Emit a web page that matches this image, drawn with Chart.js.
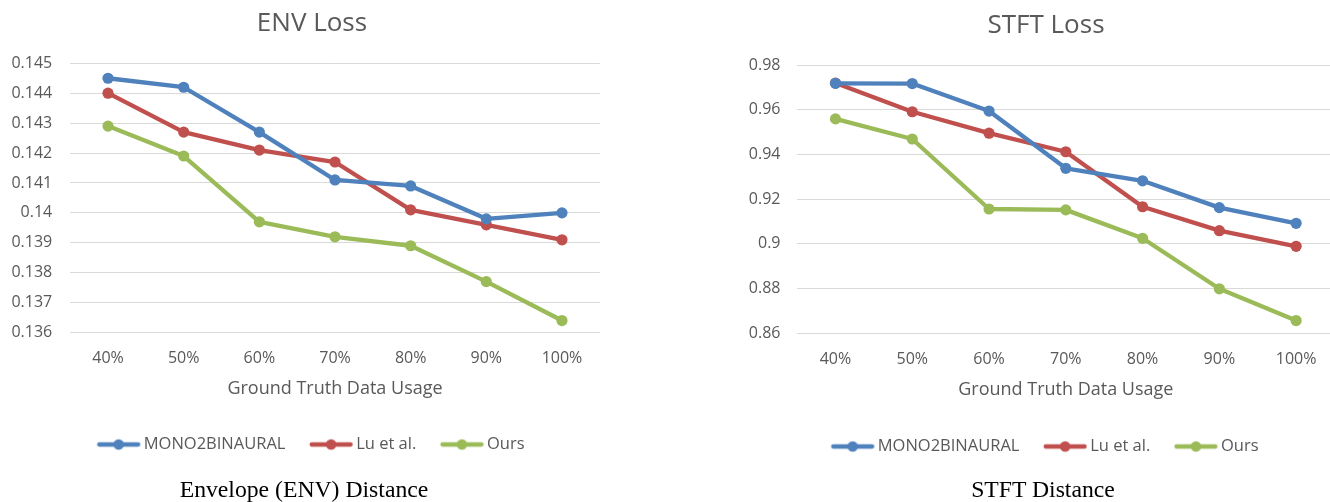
<!DOCTYPE html>
<html><head><meta charset="utf-8">
<script src="https://cdn.jsdelivr.net/npm/chart.js@4.4.1/dist/chart.umd.min.js"></script>
<style>
html,body{margin:0;padding:0;background:#fff;}
body{width:1330px;height:502px;overflow:hidden;position:relative;}
.box{position:absolute;top:0;}
.cap{position:absolute;font-family:"Liberation Serif","Times New Roman",serif;font-size:23.7px;color:#000;white-space:nowrap;transform:translateX(-50%);line-height:24px;}
</style></head><body>
<div class="box" style="left:0;width:624px;height:480px"><canvas id="env" width="624" height="480"></canvas></div>
<div class="box" style="left:738.5px;width:614px;height:480px"><canvas id="stft" width="614" height="480"></canvas></div>
<div class="cap" style="left:304px;top:477px">Envelope (ENV) Distance</div>
<div class="cap" style="left:1043px;top:477px">STFT Distance</div>
<script>
// ---- data ----
const categories = ['40%', '50%', '60%', '70%', '80%', '90%', '100%'];
const seriesNames = ['MONO2BINAURAL', 'Lu et al.', 'Ours'];
const envMono = [0.1445, 0.1442, 0.1427, 0.1411, 0.1409, 0.1398, 0.1400];
const envLu   = [0.1440, 0.1427, 0.1421, 0.1417, 0.1401, 0.1396, 0.1391];
const envOurs = [0.1429, 0.1419, 0.1397, 0.1392, 0.1389, 0.1377, 0.1364];
const stftMono = [0.9718, 0.9717, 0.9594, 0.9338, 0.9282, 0.9162, 0.9092];
const stftLu   = [0.9719, 0.9591, 0.9495, 0.9412, 0.9166, 0.9059, 0.8989];
const stftOurs = [0.9559, 0.9469, 0.9156, 0.9152, 0.9025, 0.8799, 0.8657];
const envYRange = [0.136, 0.145, 0.001];
const stftYRange = [0.86, 0.98, 0.02];
const chartTitles = ['ENV Loss', 'STFT Loss'];
const xAxisTitle = 'Ground Truth Data Usage';

// ---- style ----
const FONT = '"Open Sans", "Noto Sans", sans-serif';
const TXT = '#595959';
const COLORS = ['#4F81BD', '#C0504D', '#9BBB59'];

function marker(color) {
  const c = document.createElement('canvas');
  c.width = 52; c.height = 14;
  const g = c.getContext('2d');
  g.strokeStyle = color; g.lineWidth = 4.3; g.lineCap = 'round';
  g.beginPath(); g.moveTo(7.7, 7); g.lineTo(46.7, 7); g.stroke();
  g.fillStyle = color;
  g.beginPath(); g.arc(27.2, 7, 5.3, 0, Math.PI * 2); g.fill();
  return c;
}
const markers = COLORS.map(marker);

function lossChart(id, title, series, range, L) {
  return new Chart(document.getElementById(id), {
    type: 'line',
    data: {
      labels: categories,
      datasets: series.map((vals, i) => ({
        label: seriesNames[i], data: vals,
        borderColor: COLORS[i], backgroundColor: COLORS[i],
        pointBackgroundColor: COLORS[i], pointBorderColor: COLORS[i],
        borderWidth: 4.3, pointRadius: 5.6, pointBorderWidth: 0,
        borderJoinStyle: 'round', borderCapStyle: 'round', tension: 0,
        yAxisID: 'y'
      }))
    },
    options: {
      responsive: false, animation: false, events: [],
      layout: { padding: { top: 0, left: 0, right: 0, bottom: L.padBottom } },
      plugins: {
        title: { display: true, text: title, color: TXT,
          font: { family: FONT, size: 26, weight: 'normal' },
          padding: { top: L.titleTop, bottom: L.titleBottom } },
        legend: { position: 'bottom',
          labels: { usePointStyle: true, pointStyleWidth: 36, boxHeight: 15.5, padding: 26.45,
            color: TXT, font: { family: FONT, size: 16.5 },
            generateLabels(chart) {
              const items = Chart.defaults.plugins.legend.labels.generateLabels(chart);
              return items.map((it, i) => Object.assign(it, { pointStyle: markers[i], fontColor: TXT }));
            } } },
        tooltip: { enabled: false }
      },
      scales: {
        x: { offset: true,
          grid: { display: false, drawTicks: true, tickLength: L.xTickLen }, border: { display: false },
          ticks: { color: TXT, font: { family: FONT, size: 16 }, padding: 2, maxRotation: 0, autoSkip: false },
          title: { display: true, text: xAxisTitle, color: TXT, font: { family: FONT, size: 18 },
            padding: { top: L.xTitleTop, bottom: L.xTitleBottom } } },
        y: { min: range[0], max: range[1],
          afterFit(s) { s.width = L.yWidth; },
          grid: { color: '#D9D9D9', lineWidth: 1, drawTicks: false }, border: { display: false },
          ticks: { stepSize: range[2], color: TXT, font: { family: FONT, size: 16 }, padding: L.yTickPad,
            callback: v => String(parseFloat(Number(v).toFixed(3))) } },
        yRight: { position: 'right', display: true,
          grid: { display: false }, ticks: { display: false }, border: { display: false },
          afterFit(s) { s.width = L.rightGap; } }
      }
    }
  });
}

lossChart('env', chartTitles[0], [envMono, envLu, envOurs], envYRange,
  { padBottom: 17.25, titleTop: 8.4, titleBottom: 23.7, xTickLen: 13.9, xTitleTop: 8.1, xTitleBottom: 10.5,
    yWidth: 70.2, yTickPad: 18, rightGap: 24.2 });
lossChart('stft', chartTitles[1], [stftMono, stftLu, stftOurs], stftYRange,
  { padBottom: 15.25, titleTop: 10.2, titleBottom: 23.6, xTickLen: 14.1, xTitleTop: 8.8, xTitleBottom: 10.8,
    yWidth: 58.1, yTickPad: 16.6, rightGap: 18.5 });
</script>
</body></html>
